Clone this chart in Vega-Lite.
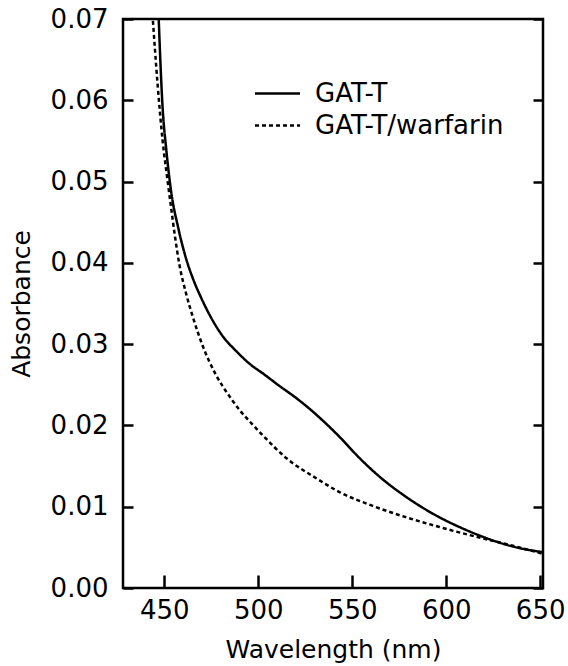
{
  "$schema": "https://vega.github.io/schema/vega-lite/v6.json",
  "width": 420,
  "height": 569,
  "autosize": {"type": "none"},
  "padding": {"left": 123, "top": 19, "right": 25, "bottom": 78},
  "background": "white",
  "config": {
    "font": "DejaVu Sans",
    "view": {"stroke": "black", "strokeWidth": 2.5},
    "axis": {"domain": false, "grid": false, "tickColor": "black", "tickWidth": 2.5, "labelColor": "black", "titleColor": "black", "labelFont": "DejaVu Sans", "titleFont": "DejaVu Sans", "labelFontSize": 26, "titleFontSize": 25, "titleFontWeight": "normal"}
  },
  "datasets": {
    "spectra": [
      {"wl": 446.8, "abs": 0.0712, "sample": "GAT-T"},
      {"wl": 449.1, "abs": 0.0590, "sample": "GAT-T"},
      {"wl": 451.0, "abs": 0.0540, "sample": "GAT-T"},
      {"wl": 453.6, "abs": 0.0488, "sample": "GAT-T"},
      {"wl": 457.4, "abs": 0.0443, "sample": "GAT-T"},
      {"wl": 461.6, "abs": 0.0405, "sample": "GAT-T"},
      {"wl": 465.0, "abs": 0.0382, "sample": "GAT-T"},
      {"wl": 470.0, "abs": 0.0355, "sample": "GAT-T"},
      {"wl": 476.0, "abs": 0.0328, "sample": "GAT-T"},
      {"wl": 481.0, "abs": 0.0310, "sample": "GAT-T"},
      {"wl": 488.0, "abs": 0.0292, "sample": "GAT-T"},
      {"wl": 495.3, "abs": 0.0276, "sample": "GAT-T"},
      {"wl": 503.0, "abs": 0.0263, "sample": "GAT-T"},
      {"wl": 511.0, "abs": 0.0249, "sample": "GAT-T"},
      {"wl": 520.0, "abs": 0.0234, "sample": "GAT-T"},
      {"wl": 527.0, "abs": 0.0221, "sample": "GAT-T"},
      {"wl": 534.3, "abs": 0.0206, "sample": "GAT-T"},
      {"wl": 543.2, "abs": 0.0186, "sample": "GAT-T"},
      {"wl": 553.8, "abs": 0.0160, "sample": "GAT-T"},
      {"wl": 564.5, "abs": 0.0137, "sample": "GAT-T"},
      {"wl": 578.7, "abs": 0.0112, "sample": "GAT-T"},
      {"wl": 596.4, "abs": 0.0087, "sample": "GAT-T"},
      {"wl": 608.0, "abs": 0.0074, "sample": "GAT-T"},
      {"wl": 619.5, "abs": 0.0063, "sample": "GAT-T"},
      {"wl": 635.5, "abs": 0.0051, "sample": "GAT-T"},
      {"wl": 651.5, "abs": 0.0044, "sample": "GAT-T"},
      {"wl": 443.4, "abs": 0.0715, "sample": "GAT-T/warfarin"},
      {"wl": 446.4, "abs": 0.0620, "sample": "GAT-T/warfarin"},
      {"wl": 449.1, "abs": 0.0550, "sample": "GAT-T/warfarin"},
      {"wl": 451.5, "abs": 0.0505, "sample": "GAT-T/warfarin"},
      {"wl": 453.6, "abs": 0.0468, "sample": "GAT-T/warfarin"},
      {"wl": 455.5, "abs": 0.0435, "sample": "GAT-T/warfarin"},
      {"wl": 458.0, "abs": 0.0398, "sample": "GAT-T/warfarin"},
      {"wl": 461.6, "abs": 0.0362, "sample": "GAT-T/warfarin"},
      {"wl": 465.1, "abs": 0.0334, "sample": "GAT-T/warfarin"},
      {"wl": 470.4, "abs": 0.0298, "sample": "GAT-T/warfarin"},
      {"wl": 477.5, "abs": 0.0262, "sample": "GAT-T/warfarin"},
      {"wl": 484.6, "abs": 0.0236, "sample": "GAT-T/warfarin"},
      {"wl": 490.0, "abs": 0.0219, "sample": "GAT-T/warfarin"},
      {"wl": 497.0, "abs": 0.0201, "sample": "GAT-T/warfarin"},
      {"wl": 502.3, "abs": 0.0188, "sample": "GAT-T/warfarin"},
      {"wl": 514.8, "abs": 0.0160, "sample": "GAT-T/warfarin"},
      {"wl": 530.8, "abs": 0.0135, "sample": "GAT-T/warfarin"},
      {"wl": 543.2, "abs": 0.0118, "sample": "GAT-T/warfarin"},
      {"wl": 560.9, "abs": 0.0101, "sample": "GAT-T/warfarin"},
      {"wl": 578.7, "abs": 0.0087, "sample": "GAT-T/warfarin"},
      {"wl": 596.4, "abs": 0.0075, "sample": "GAT-T/warfarin"},
      {"wl": 619.5, "abs": 0.0061, "sample": "GAT-T/warfarin"},
      {"wl": 635.5, "abs": 0.0052, "sample": "GAT-T/warfarin"},
      {"wl": 651.5, "abs": 0.0042, "sample": "GAT-T/warfarin"}
    ]
  },
  "data": {"name": "spectra"},
  "layer": [
    {
      "mark": {"type": "line", "clip": true, "color": "black", "strokeWidth": 2.5, "interpolate": "monotone"},
      "encoding": {
        "x": {"field": "wl", "type": "quantitative", "scale": {"domain": [428, 651.5], "nice": false, "zero": false},
          "axis": {"orient": "bottom", "values": [450, 500, 550, 600, 650], "tickSize": -13, "labelPadding": 22, "title": "Wavelength (nm)", "titlePadding": 14}},
        "y": {"field": "abs", "type": "quantitative", "scale": {"domain": [0, 0.07], "nice": false},
          "axis": {"orient": "left", "values": [0, 0.01, 0.02, 0.03, 0.04, 0.05, 0.06, 0.07], "format": ".2f", "tickSize": -10, "labelPadding": 25, "title": "Absorbance", "titlePadding": 16}},
        "strokeDash": {"field": "sample", "type": "nominal",
          "scale": {"domain": ["GAT-T", "GAT-T/warfarin"], "range": [[1, 0], [4, 3]]},
          "legend": {"title": null, "orient": "none", "legendX": 136, "legendY": 56, "symbolType": "M-1.324,0H1.324", "symbolSize": 1156, "symbolStrokeWidth": 2.5, "symbolStrokeColor": "black", "symbolFillColor": "transparent", "labelFontSize": 26, "labelColor": "black", "labelFont": "DejaVu Sans", "labelOffset": 19, "labelLimit": 400, "rowPadding": 0, "padding": 0}}
      }
    },
    {
      "mark": {"type": "line", "opacity": 0},
      "encoding": {
        "x": {"field": "wl", "type": "quantitative"},
        "y": {"field": "abs", "type": "quantitative",
          "axis": {"orient": "right", "values": [0, 0.01, 0.02, 0.03, 0.04, 0.05, 0.06, 0.07], "tickSize": -10, "labels": false, "title": null}}
      }
    }
  ],
  "resolve": {"axis": {"y": "independent"}}
}
